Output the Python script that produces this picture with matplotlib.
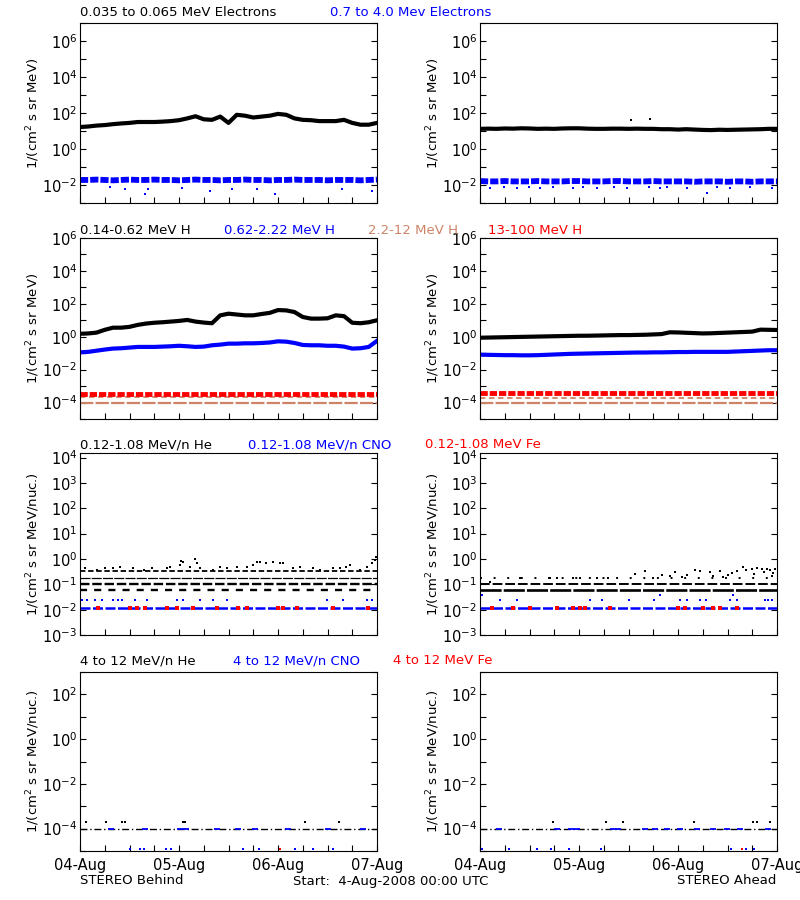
import numpy as np
import matplotlib
matplotlib.use("Agg")
import matplotlib.pyplot as plt
from matplotlib.ticker import FixedLocator, LogFormatterMathtext, NullFormatter

# hours since 04-Aug-2008 00:00 UTC, one reading every 2 h
hours = np.arange(0, 73, 2)

# ---- electrons, log10 flux ----
beh_e_low = [1.22, 1.25, 1.30, 1.33, 1.38, 1.42, 1.45, 1.50, 1.50, 1.50, 1.52, 1.55, 1.60,
             1.70, 1.82, 1.65, 1.62, 1.80, 1.45, 1.90, 1.85, 1.75, 1.80, 1.85, 1.95, 1.90,
             1.70, 1.62, 1.60, 1.55, 1.55, 1.55, 1.62, 1.45, 1.35, 1.35, 1.45]
ahe_e_low = [1.12, 1.13, 1.12, 1.14, 1.13, 1.15, 1.14, 1.12, 1.13, 1.12, 1.14, 1.15, 1.15,
             1.13, 1.12, 1.12, 1.13, 1.13, 1.12, 1.13, 1.12, 1.12, 1.10, 1.10, 1.08, 1.10,
             1.08, 1.06, 1.05, 1.07, 1.06, 1.07, 1.08, 1.09, 1.10, 1.12, 1.12]
beh_e_high = [-1.72, -1.72, -1.70, -1.72, -1.74, -1.72, -1.70, -1.72, -1.72, -1.70, -1.72,
              -1.72, -1.74, -1.72, -1.70, -1.72, -1.72, -1.74, -1.72, -1.72, -1.70, -1.72,
              -1.72, -1.74, -1.72, -1.72, -1.70, -1.72, -1.72, -1.72, -1.74, -1.72, -1.72,
              -1.72, -1.74, -1.72, -1.70]
ahe_e_high = [-1.78, -1.80, -1.80, -1.78, -1.80, -1.80, -1.80, -1.78, -1.80, -1.80, -1.80,
              -1.78, -1.78, -1.80, -1.80, -1.80, -1.78, -1.78, -1.80, -1.80, -1.80, -1.78,
              -1.80, -1.80, -1.80, -1.80, -1.82, -1.80, -1.80, -1.80, -1.82, -1.80, -1.80,
              -1.82, -1.80, -1.80, -1.80]
beh_e_high_out_t = [7.3, 10.9, 15.8, 16.6, 24.7, 31.6, 36.8, 42.9, 47.3, 63.5, 70.8]
beh_e_high_out_v = [-2.09, -2.24, -2.50, -2.24, -2.19, -2.31, -2.24, -2.24, -2.50, -2.24, -2.33]
ahe_e_high_out_t = [2.4, 5.7, 8.9, 11.8, 14.6, 17.8, 22.6, 25.0, 28.3, 32.4, 35.6, 40.9,
                    43.7, 45.3, 50.1, 55.0, 57.4, 60.7, 65.5, 70.8]
ahe_e_high_out_v = [-2.15, -2.10, -2.15, -2.12, -2.15, -2.10, -2.15, -2.12, -2.15, -2.10,
                    -2.15, -2.12, -2.15, -2.10, -2.15, -2.46, -2.12, -2.15, -2.10, -2.15]
ahe_e_low_out_t = [36.6, 41.1]
ahe_e_low_out_v = [1.60, 1.66]

# ---- protons, log10 flux ----
beh_h1 = [0.18, 0.20, 0.25, 0.42, 0.55, 0.55, 0.60, 0.72, 0.80, 0.85, 0.88, 0.92, 0.96,
          1.02, 0.92, 0.86, 0.82, 1.30, 1.40, 1.35, 1.30, 1.30, 1.38, 1.45, 1.62, 1.60,
          1.50, 1.20, 1.10, 1.10, 1.12, 1.30, 1.25, 0.85, 0.82, 0.88, 1.00]
beh_h2 = [-0.95, -0.92, -0.85, -0.78, -0.72, -0.70, -0.66, -0.62, -0.62, -0.62, -0.60,
          -0.58, -0.55, -0.58, -0.62, -0.60, -0.52, -0.48, -0.42, -0.42, -0.40, -0.40,
          -0.38, -0.35, -0.28, -0.30, -0.38, -0.50, -0.52, -0.52, -0.55, -0.55, -0.60,
          -0.72, -0.70, -0.62, -0.25]
ahe_h1 = [-0.06, -0.05, -0.04, -0.03, -0.02, -0.01, 0.00, 0.01, 0.02, 0.03, 0.04, 0.05,
          0.06, 0.06, 0.07, 0.08, 0.09, 0.10, 0.10, 0.11, 0.12, 0.14, 0.16, 0.27, 0.26,
          0.24, 0.22, 0.20, 0.21, 0.23, 0.25, 0.27, 0.29, 0.31, 0.43, 0.42, 0.41]
ahe_h2 = [-1.09, -1.10, -1.11, -1.12, -1.12, -1.13, -1.13, -1.12, -1.10, -1.08, -1.06,
          -1.04, -1.03, -1.02, -1.01, -1.00, -0.99, -0.98, -0.97, -0.96, -0.96, -0.95,
          -0.95, -0.94, -0.93, -0.93, -0.92, -0.92, -0.92, -0.92, -0.92, -0.90, -0.88,
          -0.86, -0.84, -0.82, -0.82]
beh_h4 = -3.50       # 13-100 MeV H band
ahe_h4 = -3.45
beh_h3_levels = [-3.68, -4.05]   # 2.2-12 MeV H
ahe_h3_levels = [-3.75, -4.05]

# ---- 0.12-1.08 MeV/n heavy ions (counting-statistics levels) ----
beh_he_levels = [0.32, 0.17, 0.10, 0.058]
ahe_he_levels = [0.17, 0.10, 0.058]
cno_level = 0.0115
beh_he_t = [1.2, 4.0, 6.1, 8.1, 9.7, 12.9, 15.4, 17.4, 21.0, 21.8, 24.2, 24.6, 25.0, 26.7,
            27.9, 28.3, 29.1, 32.3, 33.9, 35.6, 38.0, 40.4, 42.0, 42.8, 43.6, 45.2, 46.9,
            48.5, 49.3, 51.7, 53.3, 56.6, 58.2, 61.4, 63.0, 64.6, 65.4, 67.9, 69.5, 70.7,
            71.6, 71.8]
beh_he_v = [0.44, 0.37, 0.44, 0.44, 0.50, 0.44, 0.37, 0.46, 0.44, 0.50, 0.59, 0.85, 0.79,
            0.50, 1.00, 0.69, 0.44, 0.37, 0.50, 0.44, 0.50, 0.50, 0.59, 0.75, 0.79, 0.69,
            0.79, 0.69, 0.70, 0.44, 0.50, 0.44, 0.37, 0.44, 0.44, 0.50, 0.59, 0.37, 0.50,
            0.69, 0.90, 1.20]
ahe_he_t = [2.4, 9.7, 17.0, 18.6, 22.6, 24.2, 28.3, 31.1, 37.6, 40.0, 42.0, 44.0, 46.0,
            47.3, 49.0, 50.1, 52.1, 53.3, 55.8, 56.5, 58.2, 59.0, 60.2, 61.0, 62.2, 63.8,
            64.6, 65.9, 66.5, 67.1, 68.3, 68.8, 69.5, 70.3, 70.8, 71.1, 71.5]
ahe_he_v = [0.12, 0.18, 0.18, 0.18, 0.18, 0.18, 0.18, 0.18, 0.26, 0.32, 0.18, 0.24, 0.22,
            0.30, 0.20, 0.24, 0.37, 0.32, 0.30, 0.22, 0.32, 0.20, 0.24, 0.28, 0.32, 0.48,
            0.37, 0.40, 0.25, 0.44, 0.40, 0.30, 0.42, 0.37, 0.22, 0.28, 0.42]
beh_cno_t = [0.4, 1.6, 3.6, 5.3, 8.1, 9.3, 10.1, 13.3, 16.2, 23.4, 25.0, 29.1, 32.3, 35.6,
             59.8, 63.8, 69.5, 70.7]
beh_cno_v = [0.025] * 18
ahe_cno_t = [0.6, 4.8, 8.9, 26.7, 29.5, 36.0, 42.2, 43.6, 48.6, 50.3, 53.3, 54.7, 60.6,
             61.4, 62.4, 69.1, 69.9, 70.7]
ahe_cno_v = [0.037, 0.025, 0.025, 0.025, 0.025, 0.025, 0.025, 0.037, 0.025, 0.025, 0.025,
             0.025, 0.025, 0.037, 0.025, 0.025, 0.025, 0.025]
beh_fe_t = [4.4, 12.1, 13.7, 15.8, 21.0, 23.4, 27.5, 33.1, 38.4, 40.4, 48.1, 49.3, 52.5,
            61.4, 69.9]
ahe_fe_t = [2.8, 8.1, 12.1, 18.6, 22.6, 24.2, 25.5, 31.5, 48.1, 49.7, 54.1, 56.6, 58.2, 62.2]

# ---- 4-12 MeV/n heavy ions ----
floor_level = 1.0e-4
he_hi_level = 1.9e-4
cno_hi_low = 1.2e-5
beh_he4_t = [1.5, 6.3, 10.1, 10.9, 25.0, 25.5, 54.5, 62.9]
ahe_he4_t = [17.6, 30.5, 34.6, 51.9, 66.1, 67.1, 70.3]
beh_cno4_t = [12.1, 14.5, 15.6, 20.8, 22.0, 39.4, 43.4, 52.1, 56.5, 61.3]
ahe_cno4_t = [0.6, 7.0, 13.7, 17.2, 21.6, 29.3, 60.8, 64.4, 66.4]
beh_cno4_line_t = [7.4, 15.8, 24.2, 25.7, 33.1, 38.4, 42.4, 50.5, 60.2, 68.5]
ahe_cno4_line_t = [4.6, 18.6, 22.0, 23.6, 32.3, 33.5, 40.0, 42.4, 45.3, 48.5, 52.5, 56.6,
                   59.8, 63.0, 69.9]
beh_fe4_t = [48.5]
ahe_fe4_t = [63.6]

day_labels = ["04-Aug", "05-Aug", "06-Aug", "07-Aug"]
SIENNA = "#cd8466"
row_titles = [
    [("0.035 to 0.065 MeV Electrons", "black", 80), ("0.7 to 4.0 Mev Electrons", "blue", 330)],
    [("0.14-0.62 MeV H", "black", 80), ("0.62-2.22 MeV H", "blue", 224),
     ("2.2-12 MeV H", SIENNA, 368), ("13-100 MeV H", "red", 488)],
    [("0.12-1.08 MeV/n He", "black", 80), ("0.12-1.08 MeV/n CNO", "blue", 248),
     ("0.12-1.08 MeV Fe", "red", 425)],
    [("4 to 12 MeV/n He", "black", 80), ("4 to 12 MeV/n CNO", "blue", 233),
     ("4 to 12 MeV Fe", "red", 393)],
]
W, H = 800, 900
FS = 9.5

fig = plt.figure(figsize=(8, 9), dpi=100)

rows = [(23, 203, -3, 7, 2), (238, 419, -5, 6, 2), (453, 635, -3, 4.18, 1), (672, 851, -5, 3, 2)]
lab_e = r"1/(cm$^2$ s sr MeV)"
lab_n = r"1/(cm$^2$ s sr MeV/nuc.)"


def make_axes(col, r):
    top, bot, lo, hi, step = rows[r]
    x0 = 80 if col == 0 else 480
    ax = fig.add_axes([x0 / W, 1 - bot / H, 297 / W, (bot - top) / H])
    ax.set_xlim(0, 72)
    ax.set_yscale("log")
    ax.set_ylim(10.0 ** lo, 10.0 ** hi)
    first = int(np.ceil(lo))
    if step == 2 and first % 2:
        first += 1
    majors = [10.0 ** k for k in range(first, int(np.floor(hi)) + 1, step)]
    minors = [10.0 ** k for k in range(int(np.ceil(lo)), int(np.floor(hi)) + 1)]
    ax.yaxis.set_major_locator(FixedLocator(majors))
    ax.yaxis.set_minor_locator(FixedLocator(minors))
    ax.yaxis.set_major_formatter(LogFormatterMathtext())
    ax.yaxis.set_minor_formatter(NullFormatter())
    ax.xaxis.set_major_locator(FixedLocator([0, 24, 48, 72]))
    ax.xaxis.set_minor_locator(FixedLocator([h for h in range(6, 72, 6) if h % 24]))
    ax.tick_params(which="both", direction="in", length=4.3, width=0.8,
                   right=True, top=False, labelsize=10.5, pad=2)
    ax.tick_params(axis="x", which="both", pad=5)
    if r == 3:
        ax.set_xticklabels(day_labels)
    else:
        ax.set_xticklabels([])
    for s in ax.spines.values():
        s.set_linewidth(0.8)
    fig.text((33 if col == 0 else 433) / W, 1 - (top + bot) / 2 / H,
             lab_e if r < 2 else lab_n, rotation=90, ha="center", va="center", fontsize=FS)
    return ax


def lg(a):
    return 10.0 ** np.asarray(a, dtype=float)


def pts(ax, t, v, color, ms=1.9):
    ax.plot(t, v, ls="none", marker="s", ms=ms, mew=0, color=color)


# row 1: electrons
for col, (lo_e, hi_e, ot, ov, lt, lv) in enumerate([
        (beh_e_low, beh_e_high, beh_e_high_out_t, beh_e_high_out_v, [], []),
        (ahe_e_low, ahe_e_high, ahe_e_high_out_t, ahe_e_high_out_v, ahe_e_low_out_t, ahe_e_low_out_v)]):
    ax = make_axes(col, 0)
    ax.plot(hours, lg(hi_e), color="blue", lw=4.2, ls=(0, (1.4, 0.35)))
    pts(ax, ot, lg(ov), "blue")
    ax.plot(hours, lg(lo_e), color="black", lw=3)
    pts(ax, lt, lg(lv), "black")

# row 2: protons
for col, (h1, h2, h4, h3) in enumerate([(beh_h1, beh_h2, beh_h4, beh_h3_levels),
                                        (ahe_h1, ahe_h2, ahe_h4, ahe_h3_levels)]):
    ax = make_axes(col, 1)
    ax.plot([0, 72], [10 ** h3[1]] * 2, color=SIENNA, lw=1.6, ls=(0, (6, 1)))
    ax.plot([0, 72], [10 ** h3[0]] * 2, color=SIENNA, lw=1.3, ls=(0, (3, 2)))
    ax.plot([0, 72], [10 ** h4] * 2, color="red", lw=3.5, ls=(0, (1.5, 0.4)))
    ax.plot(hours, lg(h2), color="blue", lw=3)
    ax.plot(hours, lg(h1), color="black", lw=3)

# row 3: 0.12-1.08 MeV/n ions
for col, (levels, styles, ht, hv, ct, cv, ft) in enumerate([
        (beh_he_levels, [(1.3, (3, 1.5)), (0.9, (8, 1)), (1.7, (4, 1.2)), (1.7, (3, 3))],
         beh_he_t, beh_he_v, beh_cno_t, beh_cno_v, beh_fe_t),
        (ahe_he_levels, [(1.4, (1, 6)), (1.4, (5, 1.5)), (1.9, (8, 0.8))],
         ahe_he_t, ahe_he_v, ahe_cno_t, ahe_cno_v, ahe_fe_t)]):
    ax = make_axes(col, 2)
    for lvl, (lw, dash) in zip(levels, styles):
        ax.plot([0, 72], [lvl, lvl], color="black", lw=lw, ls=(0, dash))
    pts(ax, ht, hv, "black")
    ax.plot([0, 72], [cno_level] * 2, color="blue", lw=1.8, ls=(0, (4, 1)))
    pts(ax, ct, cv, "blue")
    pts(ax, ft, [cno_level] * len(ft), "red", ms=2.5)

# row 4: 4-12 MeV/n ions
for col, (ht, ct, lt, ft) in enumerate([(beh_he4_t, beh_cno4_t, beh_cno4_line_t, beh_fe4_t),
                                        (ahe_he4_t, ahe_cno4_t, ahe_cno4_line_t, ahe_fe4_t)]):
    ax = make_axes(col, 3)
    ax.plot([0, 72], [floor_level] * 2, color="black", lw=1, ls=(0, (5, 2, 1, 2)))
    ax.plot(lt, [floor_level] * len(lt), ls="none", marker="_", ms=5, mew=1.3, color="blue")
    pts(ax, ht, [he_hi_level] * len(ht), "black")
    pts(ax, ct, [cno_hi_low] * len(ct), "blue")
    pts(ax, ft, [cno_hi_low] * len(ft), "red")

# row titles
ty = [13, 230, 445, 661]
for r, items in enumerate(row_titles):
    for text, color, x in items:
        fig.text(x / W, 1 - ty[r] / H, text, color=color, ha="left", va="center", fontsize=FS)

fig.text(80 / W, 1 - 881 / H, "STEREO Behind", ha="left", va="center", fontsize=FS)
fig.text(293 / W, 1 - 881 / H, "Start:  4-Aug-2008 00:00 UTC", ha="left", va="center", fontsize=FS)
fig.text(776 / W, 1 - 881 / H, "STEREO Ahead", ha="right", va="center", fontsize=FS)

fig.savefig("out.png", dpi=100)
